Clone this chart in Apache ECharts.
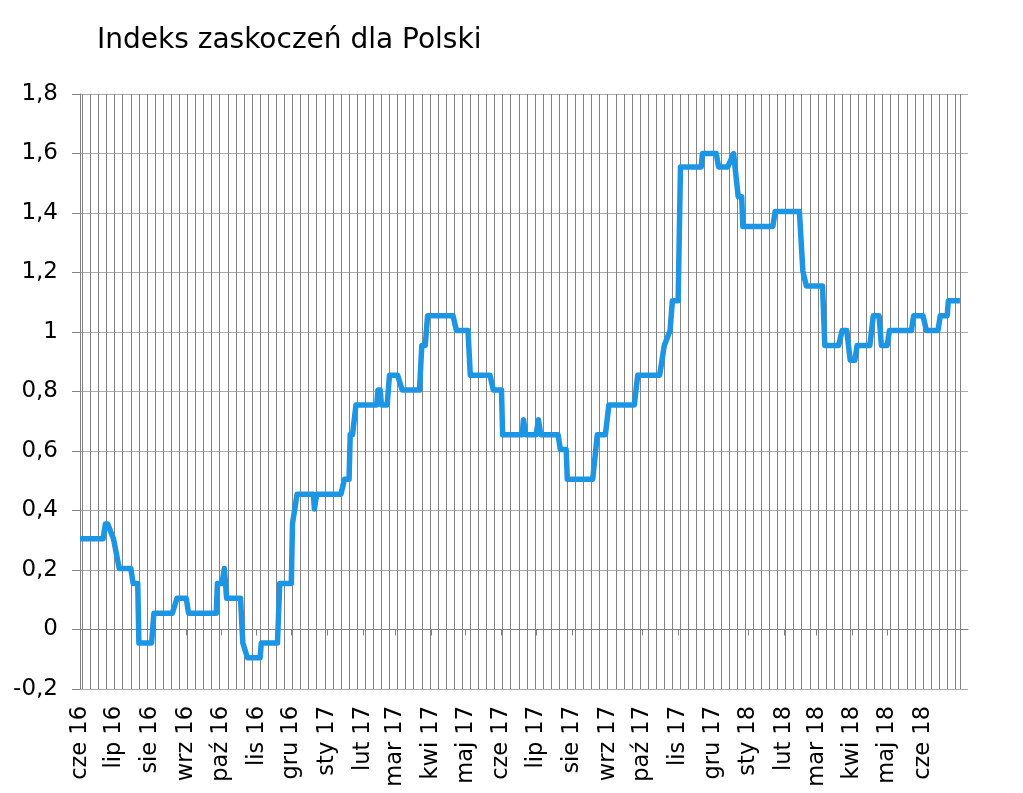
<!DOCTYPE html>
<html>
<head>
<meta charset="utf-8">
<title>Indeks zaskoczeń dla Polski</title>
<script src="https://cdn.jsdelivr.net/npm/echarts@6/dist/echarts.min.js"></script>
<style>
  html, body { margin: 0; padding: 0; background: #fff; }
  #chart { width: 1023px; height: 793px; }
</style>
</head>
<body>
<div id="chart"></div>
<script>
// punkty zmian indeksu (data, wartość)
const dates = [
  '2016-06-01', '2016-06-21', '2016-06-23', '2016-06-25', '2016-06-30', '2016-07-01',
  '2016-07-05', '2016-07-15', '2016-07-17', '2016-07-21', '2016-07-22', '2016-08-02',
  '2016-08-04', '2016-08-20', '2016-08-24', '2016-09-01', '2016-09-03', '2016-09-27',
  '2016-09-28', '2016-10-02', '2016-10-04', '2016-10-06', '2016-10-18', '2016-10-20',
  '2016-10-24', '2016-11-04', '2016-11-05', '2016-11-19', '2016-11-21', '2016-12-01',
  '2016-12-02', '2016-12-06', '2016-12-20', '2016-12-21', '2016-12-23', '2017-01-13',
  '2017-01-16', '2017-01-20', '2017-01-21', '2017-01-23', '2017-01-26', '2017-02-13',
  '2017-02-14', '2017-02-16', '2017-02-17', '2017-02-22', '2017-02-24', '2017-03-03',
  '2017-03-07', '2017-03-22', '2017-03-24', '2017-03-27', '2017-03-29', '2017-04-20',
  '2017-04-23', '2017-05-03', '2017-05-05', '2017-05-22', '2017-05-25', '2017-06-01',
  '2017-06-02', '2017-06-19', '2017-06-20', '2017-06-21', '2017-06-22', '2017-07-01',
  '2017-07-03', '2017-07-05', '2017-07-20', '2017-07-22', '2017-07-27', '2017-07-28',
  '2017-08-19', '2017-08-21', '2017-08-23', '2017-08-30', '2017-09-02', '2017-09-24',
  '2017-09-27', '2017-10-16', '2017-10-18', '2017-10-20', '2017-10-25', '2017-10-27',
  '2017-11-01', '2017-11-03', '2017-11-21', '2017-11-22', '2017-12-04', '2017-12-06',
  '2017-12-14', '2017-12-19', '2017-12-23', '2017-12-26', '2017-12-27', '2018-01-22',
  '2018-01-24', '2018-02-14', '2018-02-17', '2018-02-20', '2018-03-06', '2018-03-08',
  '2018-03-20', '2018-03-23', '2018-03-27', '2018-03-30', '2018-04-03', '2018-04-05',
  '2018-04-16', '2018-04-19', '2018-04-24', '2018-04-26', '2018-05-01', '2018-05-03',
  '2018-05-22', '2018-05-24', '2018-06-01', '2018-06-04', '2018-06-14', '2018-06-16',
  '2018-06-22', '2018-06-23', '2018-07-03'
];

const values = [
  0.305, 0.305, 0.355, 0.355, 0.305, 0.305,
  0.205, 0.205, 0.155, 0.155, -0.045, -0.045,
  0.055, 0.055, 0.105, 0.105, 0.055, 0.055,
  0.155, 0.155, 0.205, 0.105, 0.105, -0.045,
  -0.095, -0.095, -0.045, -0.045, 0.155, 0.155,
  0.355, 0.455, 0.455, 0.405, 0.455, 0.455,
  0.505, 0.505, 0.655, 0.655, 0.755, 0.755,
  0.805, 0.805, 0.755, 0.755, 0.855, 0.855,
  0.805, 0.805, 0.955, 0.955, 1.055, 1.055,
  1.005, 1.005, 0.855, 0.855, 0.805, 0.805,
  0.655, 0.655, 0.705, 0.705, 0.655, 0.655,
  0.705, 0.655, 0.655, 0.605, 0.605, 0.505,
  0.505, 0.58, 0.655, 0.655, 0.755, 0.755,
  0.855, 0.855, 0.905, 0.955, 1.005, 1.105,
  1.105, 1.555, 1.555, 1.6, 1.6, 1.555,
  1.555, 1.6, 1.455, 1.455, 1.355, 1.355,
  1.405, 1.405, 1.205, 1.155, 1.155, 0.955,
  0.955, 1.005, 1.005, 0.905, 0.905, 0.955,
  0.955, 1.055, 1.055, 0.955, 0.955, 1.005,
  1.005, 1.055, 1.055, 1.005, 1.005, 1.055,
  1.055, 1.105, 1.105
];

// nazwy miesięcy na osi
const monthNames = ['sty', 'lut', 'mar', 'kwi', 'maj', 'cze', 'lip', 'sie', 'wrz', 'paź', 'lis', 'gru'];

// oś X liczona w dniach od 1 czerwca 2016
const DAY = 24 * 3600 * 1000;
const ORIGIN = Date.UTC(2016, 5, 1);
function dayOf(str) {
  const p = str.split('-');
  return Math.round((Date.UTC(+p[0], +p[1] - 1, +p[2]) - ORIGIN) / DAY);
}
const axisEnd = dayOf('2018-07-10');

// pionowe linie siatki co tydzień + ostatni dzień danych
const weekTicks = [];
for (let d = dayOf('2016-06-03'); d <= dayOf('2018-06-30'); d += 7) {
  weekTicks.push(d);
}
weekTicks.push(dayOf('2018-07-03'));

// początki miesięcy (etykiety i znaczniki)
const monthTicks = [];
for (let m = 0; m <= 24; m++) {
  monthTicks.push(Math.round((Date.UTC(2016, 5 + m, 1) - ORIGIN) / DAY));
}

const gridColor = '#828282';

const chart = echarts.init(document.getElementById('chart'));

const option = {
  animation: false,
  title: {
    text: 'Indeks zaskoczeń dla Polski',
    left: 92,
    top: 22,
    textStyle: {
      fontFamily: 'DejaVu Sans',
      fontSize: 28,
      fontWeight: 'normal',
      color: '#000'
    }
  },
  grid: {
    left: 80,
    right: 55,
    top: 94,
    bottom: 104
  },
  xAxis: [
    // tygodniowa siatka
    {
      type: 'value',
      position: 'bottom',
      min: 0,
      max: axisEnd,
      axisLine: { show: false, onZero: false },
      axisTick: { show: false, customValues: weekTicks },
      axisLabel: { show: false },
      splitLine: { show: true, lineStyle: { color: gridColor, width: 1 } }
    },
    // linia osi na zerze ze znacznikami miesięcy
    {
      type: 'value',
      position: 'bottom',
      min: 0,
      max: axisEnd,
      axisLine: { show: true, onZero: true, lineStyle: { color: gridColor, width: 1 } },
      axisTick: { show: true, length: 6, customValues: monthTicks, lineStyle: { color: gridColor } },
      axisLabel: { show: false },
      splitLine: { show: false }
    },
    // etykiety miesięcy na dole
    {
      type: 'value',
      position: 'bottom',
      min: 0,
      max: axisEnd,
      axisLine: { show: false, onZero: false },
      axisTick: { show: false, customValues: monthTicks },
      splitLine: { show: false },
      axisLabel: {
        customValues: monthTicks,
        rotate: 90,
        margin: 17,
        fontFamily: 'DejaVu Sans',
        fontSize: 22.5,
        color: '#000',
        formatter: function (value) {
          const d = new Date(ORIGIN + value * DAY);
          return monthNames[d.getUTCMonth()] + ' ' + String(d.getUTCFullYear()).slice(2);
        }
      }
    }
  ],
  yAxis: {
    type: 'value',
    min: -0.2,
    max: 1.8,
    interval: 0.2,
    axisLine: { show: true, lineStyle: { color: gridColor, width: 1 } },
    axisTick: { show: true, length: 8, lineStyle: { color: gridColor } },
    splitLine: { show: true, lineStyle: { color: '#ababab', width: 1 } },
    axisLabel: {
      margin: 22,
      fontFamily: 'DejaVu Sans',
      fontSize: 23,
      color: '#000',
      formatter: function (v) {
        return String(Math.round(v * 10) / 10).replace('.', ',');
      }
    }
  },
  series: [
    {
      name: 'Indeks zaskoczeń',
      type: 'line',
      xAxisIndex: 0,
      data: dates.map((d, i) => [dayOf(d), values[i]]),
      showSymbol: false,
      lineStyle: { color: '#1c96e4', width: 5.5, join: 'round' },
      itemStyle: { color: '#1c96e4' }
    }
  ]
};

chart.setOption(option);

window.addEventListener('resize', function () {
  chart.resize();
});
</script>
</body>
</html>
